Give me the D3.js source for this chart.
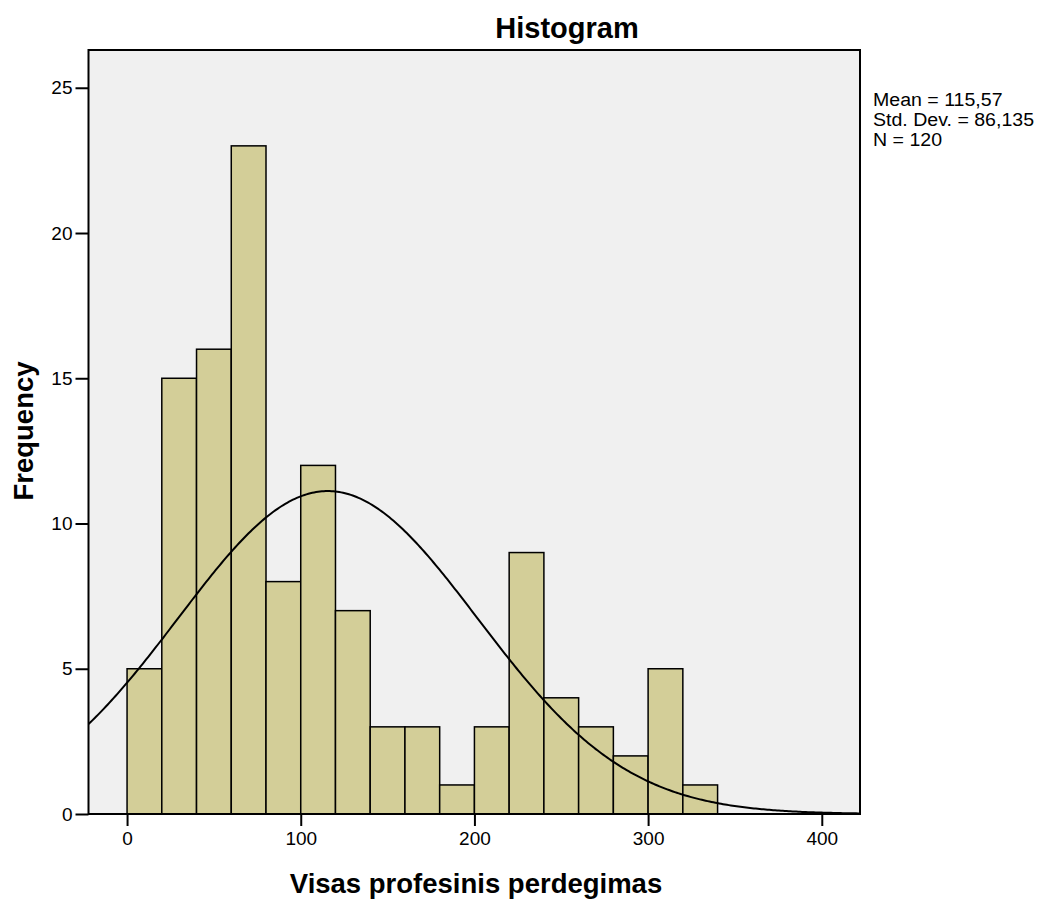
<!DOCTYPE html>
<html>
<head>
<meta charset="utf-8">
<script src="https://cdn.jsdelivr.net/npm/d3@7"></script>
<style>
  body { margin: 0; background: #fff; }
  svg { display: block; font-family: "Liberation Sans", Arial, sans-serif; }
</style>
</head>
<body>
<svg id="chart" width="1047" height="903"></svg>
<script>
// ---- data ----
const binStarts = [0, 20, 40, 60, 80, 100, 120, 140, 160, 180, 200, 220, 240, 260, 280, 300, 320];
const binWidth = 20;
const counts = [5, 15, 16, 23, 8, 12, 7, 3, 3, 1, 3, 9, 4, 3, 2, 5, 1];
const xTicks = [0, 100, 200, 300, 400];
const yTicks = [0, 5, 10, 15, 20, 25];
const statLines = ["Mean = 115,57", "Std. Dev. = 86,135", "N = 120"];
const meanVal = 115.57, sdVal = 86.135, nVal = 120;

const svg = d3.select("#chart");
const L = 88.5, R = 860, T = 50, B = 814;

const x = d3.scaleLinear().domain([-22.2, 422]).range([L, R]);
const y = d3.scaleLinear().domain([0, 26.3]).range([B, T]);

// plot background
svg.append("rect").attr("x", L).attr("y", T).attr("width", R - L).attr("height", B - T)
  .attr("fill", "#f0f0f0");

svg.append("clipPath").attr("id", "pc").append("rect")
  .attr("x", L).attr("y", T).attr("width", R - L).attr("height", B - T);

// bars
svg.append("g").selectAll("rect").data(counts).join("rect")
  .attr("x", (d, i) => x(binStarts[i]))
  .attr("y", d => y(d))
  .attr("width", (d, i) => x(binStarts[i] + binWidth) - x(binStarts[i]))
  .attr("height", d => y(0) - y(d))
  .attr("fill", "#d3ce98")
  .attr("stroke", "#000")
  .attr("stroke-width", 1.5);

// normal curve (fitted from mean / sd / N)
const pdf = v => nVal * binWidth / (sdVal * Math.sqrt(2 * Math.PI)) *
  Math.exp(-0.5 * Math.pow((v - meanVal) / sdVal, 2));
const dom = x.domain();
const pts = d3.range(0, 401).map(k => { const v = dom[0] + (dom[1] - dom[0]) * k / 400; return [v, pdf(v)]; });
svg.append("path").datum(pts)
  .attr("clip-path", "url(#pc)")
  .attr("fill", "none").attr("stroke", "#000").attr("stroke-width", 2)
  .attr("d", d3.line().x(d => x(d[0])).y(d => y(d[1])));

// frame
svg.append("rect").attr("x", L).attr("y", T).attr("width", R - L).attr("height", B - T)
  .attr("fill", "none").attr("stroke", "#000").attr("stroke-width", 2);

// axes
const xAxis = svg.append("g").attr("transform", `translate(0,${B})`)
  .call(d3.axisBottom(x).tickValues(xTicks).tickSize(12).tickPadding(6).tickFormat(d3.format("d")));
const yAxis = svg.append("g").attr("transform", `translate(${L},0)`)
  .call(d3.axisLeft(y).tickValues(yTicks).tickSize(13).tickPadding(3).tickFormat(d3.format("d")));
[xAxis, yAxis].forEach(g => {
  g.select(".domain").remove();
  g.selectAll("line").attr("stroke", "#000").attr("stroke-width", 2);
  g.selectAll("text").attr("fill", "#000").attr("font-size", 19)
    .attr("font-family", "'Liberation Sans', Arial, sans-serif");
});

// titles
svg.append("text").attr("x", 567).attr("y", 38).attr("text-anchor", "middle")
  .attr("font-size", 29).attr("font-weight", "bold").text("Histogram");
svg.append("text").attr("x", 476).attr("y", 893).attr("text-anchor", "middle")
  .attr("font-size", 27.5).attr("font-weight", "bold").text("Visas profesinis perdegimas");
svg.append("text").attr("transform", "translate(33,431) rotate(-90)").attr("text-anchor", "middle")
  .attr("font-size", 27.5).attr("font-weight", "bold").text("Frequency");

// stats
const st = svg.append("g").attr("transform", "translate(873,0) scale(1.03,1)");
st.selectAll("text").data(statLines).join("text")
  .attr("x", 0).attr("y", (d, i) => 106 + i * 20)
  .attr("font-size", 19).text(d => d);
</script>
</body>
</html>
